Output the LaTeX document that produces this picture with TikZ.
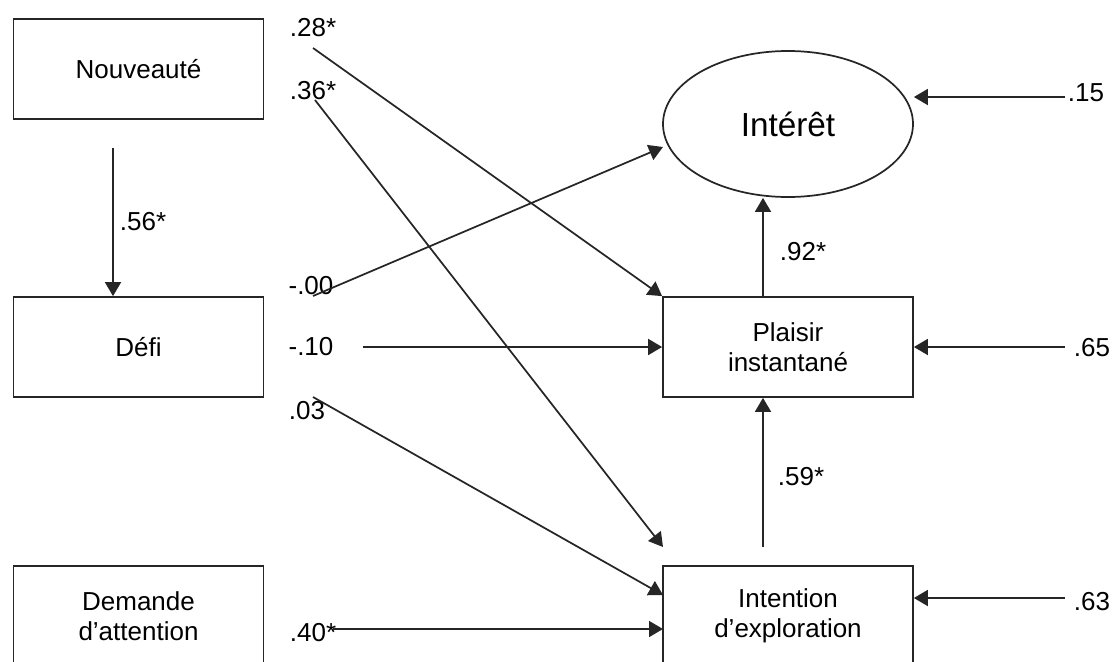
\documentclass[tikz,border=0pt]{standalone}
\usepackage{fontspec}
\setmainfont{Liberation Sans}
\usetikzlibrary{arrows.meta}
\usetikzlibrary{shapes}

\begin{document}
\begin{tikzpicture}[x=0.75pt,y=0.75pt,yscale=-1,xscale=1,
  boite/.style={draw=black!85, line width=1.3pt, minimum width=187.5pt, minimum height=75pt, inner sep=0pt, align=center, font=\fontsize{19.5}{22.5}\selectfont},
  latente/.style={draw=black!85, line width=1.3pt, ellipse, minimum width=187.5pt, minimum height=109.5pt, inner sep=0pt, font=\fontsize{25}{30}\selectfont},
  coef/.style={inner sep=0pt, font=\fontsize{19.5}{22.5}\selectfont},
  fleche/.style={draw=black!85, line width=1.3pt, -{Triangle[length=10.5pt,width=12pt]}}]
\useasboundingbox (0,0) rectangle (1114,661);
\clip (0,0) rectangle (1114,661);

%Shape: Rectangle [left column]
\node[boite] (nouveaute) at (138.5,69) {Nouveauté};
\node[boite] (defi) at (138.5,347) {Défi};
\node[boite] (demande) at (138.5,616) {Demande\\d’attention};

%Shape: Ellipse + Rectangle [right column]
\node[latente] (interet) at (788,124) {Intérêt};
\node[boite] (plaisir) at (788,347) {Plaisir\\instantané};
\node[boite] (intention) at (788,616) {Intention\\d’exploration};

%Text Node [coefficients]
\node[coef] (c28) at (313,28) {.28*};
\node[coef] (c36) at (313,91) {.36*};
\node[coef] (c00) at (311,286) {-.00};
\node[coef] (c10) at (311,347) {-.10};
\node[coef] (c03) at (307,411) {.03};
\node[coef] (c40) at (313,633) {.40*};
\node[coef] (c56) at (143,222) {.56*};
\node[coef] (c92) at (803,252) {.92*};
\node[coef] (c59) at (801,477) {.59*};
\node[coef] (c15) at (1086,93) {.15};
\node[coef] (c65) at (1092,348) {.65};
\node[coef] (c63) at (1092,602) {.63};

%Straight Lines [free ends]
\coordinate (d56) at (113,148);
\coordinate (d28) at (313,48);
\coordinate (d36) at (315,100);
\coordinate (d00) at (313,296);
\coordinate (d10) at (363,347);
\coordinate (d03) at (313,397);
\coordinate (d40) at (333,629);
\coordinate (d15) at (1065,97);
\coordinate (d65) at (1065,347);
\coordinate (d63) at (1065,598);
\coordinate (a36) at (663,547);
\coordinate (a00) at (663,147);
\coordinate (a03) at (663,595);
\coordinate (a40) at (663,629);
\coordinate (d92) at (763,297);
\coordinate (d59) at (763,547);

\draw[fleche] (d56) -- (d56 |- defi.north);
\draw[fleche] (d28) -- (plaisir.north west);
\draw[fleche] (d36) -- (a36);
\draw[fleche] (d00) -- (a00);
\draw[fleche] (d10) -- (plaisir.west);
\draw[fleche] (d03) -- (a03);
\draw[fleche] (d40) -- (a40);
\draw[fleche] (d92) -- (d92 |- interet.south);
\draw[fleche] (d59) -- (d59 |- plaisir.south);
\draw[fleche] (d15) -- (d15 -| interet.east);
\draw[fleche] (d65) -- (plaisir.east);
\draw[fleche] (d63) -- (d63 -| intention.east);

\end{tikzpicture}
\end{document}
